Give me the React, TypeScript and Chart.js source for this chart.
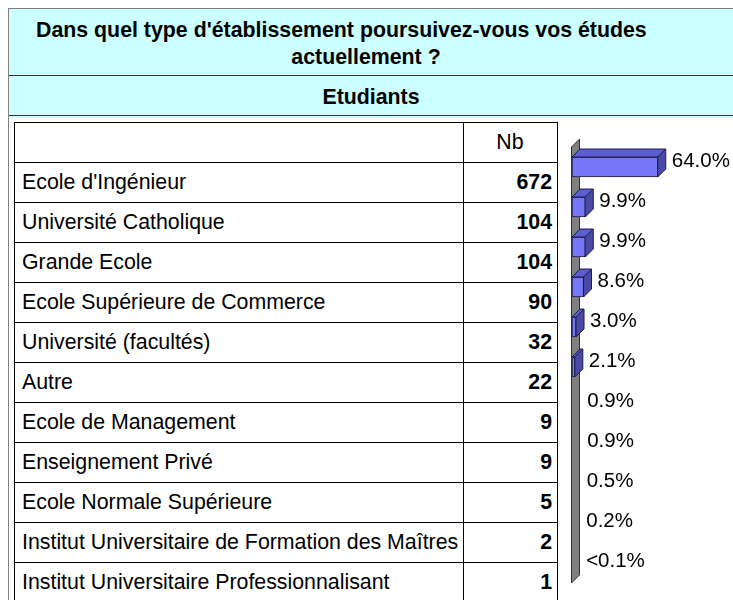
import React, { useEffect, useRef } from "react";
import { Chart, registerables } from "chart.js";

Chart.register(...registerables);

const TITLE_LINE1 = "Dans quel type d'établissement poursuivez-vous vos études";
const TITLE_LINE2 = "actuellement ?";
const GROUP_TITLE = "Etudiants";
const COLUMN_TITLE = "Nb";

const categories = [
  "Ecole d'Ingénieur",
  "Université Catholique",
  "Grande Ecole",
  "Ecole Supérieure de Commerce",
  "Université (facultés)",
  "Autre",
  "Ecole de Management",
  "Enseignement Privé",
  "Ecole Normale Supérieure",
  "Institut Universitaire de Formation des Maîtres",
  "Institut Universitaire Professionnalisant",
];
const counts = [672, 104, 104, 90, 32, 22, 9, 9, 5, 2, 1];
const percents = [64.0, 9.9, 9.9, 8.6, 3.0, 2.1, 0.9, 0.9, 0.5, 0.2, 0.1];
const percentLabels = ["64.0%", "9.9%", "9.9%", "8.6%", "3.0%", "2.1%", "0.9%", "0.9%", "0.5%", "0.2%", "<0.1%"];

const FONT = "'Liberation Sans', Arial, sans-serif";
const FRONT = "#7676F6";
const TOPFACE = "#5C5CD4";
const SIDE = "#4A4AA6";
const EDGE = "#1E1E4A";
const DEPTH = 8;
const ROW_H = 40;
const TABLE_TOP = 122;

function BarChart() {
  const ref = useRef<HTMLCanvasElement | null>(null);
  useEffect(() => {
    if (!ref.current) return;
    const threeD = {
      id: "threeD",
      beforeDatasetsDraw(chart: any) {
        const { ctx, chartArea } = chart;
        const x0 = chart.scales.x.getPixelForValue(0);
        ctx.save();
        ctx.beginPath();
        ctx.moveTo(x0 - 0.5, chartArea.top);
        ctx.lineTo(x0 - 0.5 + DEPTH, chartArea.top - DEPTH);
        ctx.lineTo(x0 - 0.5 + DEPTH, chartArea.bottom - 4 - DEPTH);
        ctx.lineTo(x0 - 0.5, chartArea.bottom - 4);
        ctx.closePath();
        ctx.fillStyle = "#808080";
        ctx.fill();
        ctx.strokeStyle = "#303030";
        ctx.lineWidth = 1;
        ctx.stroke();
        ctx.restore();
      },
      afterDatasetsDraw(chart: any) {
        const { ctx } = chart;
        const meta = chart.getDatasetMeta(0);
        ctx.save();
        meta.data.forEach((bar: any, i: number) => {
          const { x, y, base, height } = bar.getProps(["x", "y", "base", "height"], true);
          const top = y - height / 2;
          const bot = y + height / 2;
          if (x - base >= 2) {
            ctx.lineWidth = 1;
            ctx.strokeStyle = EDGE;
            ctx.beginPath();
            ctx.moveTo(base, top);
            ctx.lineTo(base + DEPTH, top - DEPTH);
            ctx.lineTo(x + DEPTH, top - DEPTH);
            ctx.lineTo(x, top);
            ctx.closePath();
            ctx.fillStyle = TOPFACE;
            ctx.fill();
            ctx.stroke();
            ctx.beginPath();
            ctx.moveTo(x, top);
            ctx.lineTo(x + DEPTH, top - DEPTH);
            ctx.lineTo(x + DEPTH, bot - DEPTH);
            ctx.lineTo(x, bot);
            ctx.closePath();
            ctx.fillStyle = SIDE;
            ctx.fill();
            ctx.stroke();
          }
          ctx.fillStyle = "#000";
          ctx.font = "20.5px " + FONT;
          ctx.textAlign = "left";
          ctx.textBaseline = "middle";
          ctx.fillText(percentLabels[i], Math.max(x, base) + DEPTH + 6, y - 6);
        });
        ctx.restore();
      },
    };
    const chart = new Chart(ref.current, {
      type: "bar",
      data: {
        labels: categories,
        datasets: [
          {
            data: percents,
            backgroundColor: (c: any) => (c.raw < 1 ? "rgba(0,0,0,0)" : FRONT),
            borderColor: (c: any) => (c.raw < 1 ? "rgba(0,0,0,0)" : EDGE),
            borderWidth: 1,
            borderSkipped: false,
            barThickness: 20,
          },
        ],
      },
      options: {
        indexAxis: "y",
        animation: false,
        responsive: false,
        maintainAspectRatio: false,
        devicePixelRatio: 1,
        layout: { padding: { left: 12, right: 27, top: 25, bottom: 13 } },
        plugins: { legend: { display: false }, tooltip: { enabled: false } },
        scales: {
          x: { display: false, min: 0, max: 100 },
          y: { display: false, offset: true },
        },
      } as any,
      plugins: [threeD],
    });
    return () => chart.destroy();
  }, []);
  return (
    <canvas
      ref={ref}
      width={173}
      height={478}
      style={{ position: "absolute", left: 560, top: 122, width: 173, height: 478 }}
    />
  );
}

export default function App() {
  const hLines = [];
  for (let k = 0; k <= categories.length + 1; k++) {
    hLines.push(
      <div
        key={"h" + k}
        style={{ position: "absolute", left: 14, top: TABLE_TOP + ROW_H * k, width: 544, height: 1, background: "#000" }}
      />
    );
  }
  const vLines = [14, 463, 557].map((x) => (
    <div key={"v" + x} style={{ position: "absolute", left: x, top: TABLE_TOP, width: 1, height: 600, background: "#000" }} />
  ));
  return (
    <div
      style={{
        position: "fixed",
        left: 0,
        top: 0,
        width: 733,
        height: 600,
        overflow: "hidden",
        background: "#fff",
        fontFamily: FONT,
        color: "#000",
      }}
    >
      <div style={{ position: "absolute", left: 8, top: 8, width: 800, height: 700, borderLeft: "1px solid #808080", borderTop: "1px solid #808080" }} />
      <div style={{ position: "absolute", left: 9, top: 9, width: 800, height: 109, background: "#CCFFFF" }} />
      <div style={{ position: "absolute", left: 9, top: 75, width: 800, height: 1, background: "#333" }} />
      <div style={{ position: "absolute", left: 9, top: 115, width: 800, height: 1, background: "#333" }} />
      <div style={{ position: "absolute", left: 36, top: 18, height: 24, lineHeight: "24px", fontSize: "16pt", fontWeight: "bold", whiteSpace: "nowrap" }}>
        {TITLE_LINE1}
      </div>
      <div style={{ position: "absolute", left: 9, width: 714, top: 45, height: 24, lineHeight: "24px", fontSize: "16pt", fontWeight: "bold", textAlign: "center" }}>
        {TITLE_LINE2}
      </div>
      <div style={{ position: "absolute", left: 9, width: 724, top: 85, height: 24, lineHeight: "24px", fontSize: "16pt", fontWeight: "bold", textAlign: "center" }}>
        {GROUP_TITLE}
      </div>
      {hLines}
      {vLines}
      <div style={{ position: "absolute", left: 463, width: 94, top: TABLE_TOP, height: ROW_H, lineHeight: ROW_H + "px", fontSize: "16pt", textAlign: "center" }}>
        {COLUMN_TITLE}
      </div>
      {categories.map((c, i) => (
        <React.Fragment key={c}>
          <div
            style={{
              position: "absolute",
              left: 22,
              top: TABLE_TOP + ROW_H * (i + 1),
              height: ROW_H,
              lineHeight: ROW_H + "px",
              fontSize: "16pt",
              whiteSpace: "nowrap",
            }}
          >
            {c}
          </div>
          <div
            style={{
              position: "absolute",
              left: 463,
              width: 89,
              top: TABLE_TOP + ROW_H * (i + 1),
              height: ROW_H,
              lineHeight: ROW_H + "px",
              fontSize: "16pt",
              fontWeight: "bold",
              textAlign: "right",
            }}
          >
            {counts[i]}
          </div>
        </React.Fragment>
      ))}
      <BarChart />
    </div>
  );
}
